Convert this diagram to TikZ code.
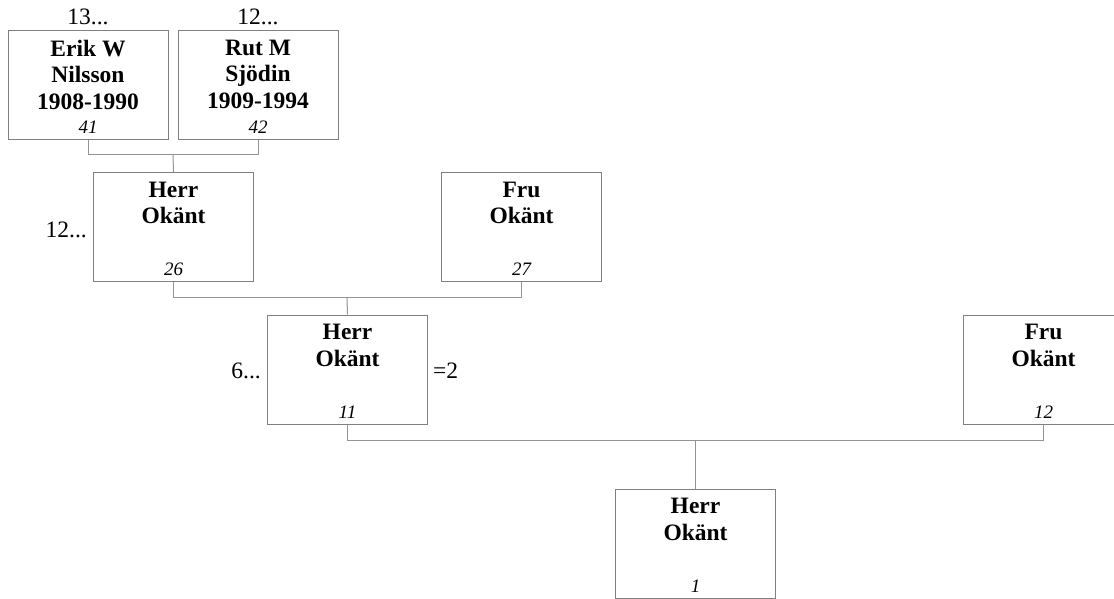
\documentclass[tikz,border=0pt]{standalone}
\usepackage{fontspec}
\setmainfont{Liberation Serif}
\begin{document}
\begin{tikzpicture}[x=1pt,y=-1pt,
  person/.style={draw=black!50,line width=1pt,minimum width=160pt,minimum height=109pt,inner sep=0pt},
  namebox/.style={font=\fontsize{23.5}{26.5}\selectfont\bfseries,align=center,anchor=north,inner sep=0pt},
  numtext/.style={font=\fontsize{19}{21}\selectfont\itshape,anchor=base,inner sep=0pt},
  lbl/.style={font=\fontsize{23.5}{26}\selectfont,inner sep=0pt},
  link/.style={draw=black!42,line width=1pt}]
\useasboundingbox (0,0) rectangle (1114,599);
% boxes
\node[person] (b41) at (88,85) {};
\node[person] (b42) at (258,85) {};
\node[person] (b26) at (173.5,227) {};
\node[person] (b27) at (521.5,227) {};
\node[person] (b11) at (347.5,369.5) {};
\node[person] (b12) at (1043.5,369.5) {};
\node[person] (b1) at (695.5,543.5) {};
% names
\node[namebox] (n41) at ([yshift=-9.5pt]b41.north) {Erik W\\Nilsson\\1908-1990};
\node[namebox] (n42) at ([yshift=-9.5pt]b42.north) {Rut M\\Sjödin\\1909-1994};
\node[namebox] (n26) at ([yshift=-9.5pt]b26.north) {Herr\\Okänt};
\node[namebox] (n27) at ([yshift=-9.5pt]b27.north) {Fru\\Okänt};
\node[namebox] (n11) at ([yshift=-9.5pt]b11.north) {Herr\\Okänt};
\node[namebox] (n12) at ([yshift=-9.5pt]b12.north) {Fru\\Okänt};
\node[namebox] (n1) at ([yshift=-9.5pt]b1.north) {Herr\\Okänt};
% numbers
\node[numtext] (m41) at ([yshift=6.5pt]b41.south) {41};
\node[numtext] (m42) at ([yshift=6.5pt]b42.south) {42};
\node[numtext] (m26) at ([yshift=6.5pt]b26.south) {26};
\node[numtext] (m27) at ([yshift=6.5pt]b27.south) {27};
\node[numtext] (m11) at ([yshift=6.5pt]b11.south) {11};
\node[numtext] (m12) at ([yshift=6.5pt]b12.south) {12};
\node[numtext] (m1) at ([yshift=6.5pt]b1.south) {1};
% outside labels
\node[lbl,anchor=base] (t41) at (88,25) {13...};
\node[lbl,anchor=base] (t42) at (258,25) {12...};
\node[lbl,anchor=base east] (t26) at ([xshift=-6pt]b26.west |- 0,237) {12...};
\node[lbl,anchor=base east] (t11) at ([xshift=-6pt]b11.west |- 0,378) {6...};
\node[lbl,anchor=base west] (e11) at ([xshift=5pt]b11.east |- 0,378) {=2};
% connectors
\coordinate (j1) at (173,155);
\coordinate (j2) at (347,297);
\coordinate (j3) at (695.5,440);
\draw[link] (b41.south) -- (b41.south |- j1) -- (b42.south |- j1) -- (b42.south);
\draw[link] (j1) -- (b26.north);
\draw[link] (b26.south) -- (b26.south |- j2) -- (b27.south |- j2) -- (b27.south);
\draw[link] (j2) -- (b11.north);
\draw[link] (b11.south) -- (b11.south |- j3) -- (b12.south |- j3) -- (b12.south);
\draw[link] (j3) -- (b1.north);
\end{tikzpicture}
\end{document}
